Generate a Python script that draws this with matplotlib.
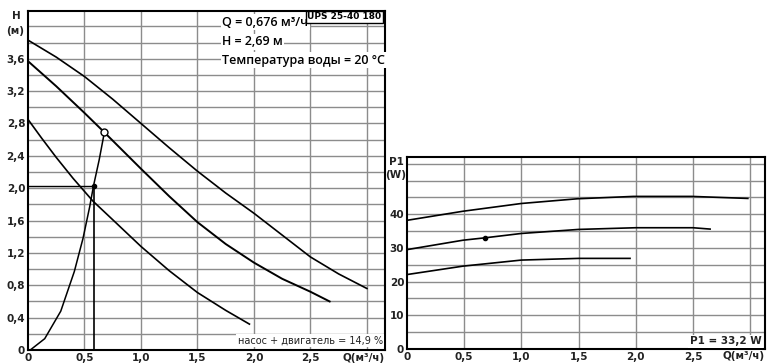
import matplotlib.pyplot as plt

plt.rcParams['font.family'] = ['DejaVu Sans']

# --- левая диаграмма: напор H(Q)
q_max = [0, 0.25, 0.5, 0.75, 1.0, 1.25, 1.5, 1.75, 2.0, 2.25, 2.5, 2.75, 3.0]
h_max = [3.83, 3.62, 3.38, 3.10, 2.80, 2.50, 2.21, 1.94, 1.69, 1.42, 1.15, 0.94, 0.76]

q_mid = [0, 0.25, 0.5, 0.676, 1.0, 1.25, 1.5, 1.75, 2.0, 2.25, 2.5, 2.67]
h_mid = [3.57, 3.26, 2.93, 2.69, 2.24, 1.90, 1.58, 1.31, 1.08, 0.88, 0.72, 0.60]

q_min = [0, 0.12, 0.25, 0.4, 0.575, 0.75, 1.0, 1.25, 1.5, 1.75, 1.96]
h_min = [2.85, 2.62, 2.38, 2.12, 1.84, 1.61, 1.28, 0.98, 0.71, 0.49, 0.32]

q_sys = [0.02, 0.148, 0.29, 0.41, 0.487, 0.546, 0.58, 0.63, 0.676]
h_sys = [0.0, 0.14, 0.48, 0.97, 1.38, 1.77, 2.03, 2.35, 2.69]

q_work, h_work = 0.676, 2.69
q_dot, h_dot = 0.58, 2.03

x_ticks = [0, 0.5, 1.0, 1.5, 2.0, 2.5]
x_labels = ['0', '0,5', '1,0', '1,5', '2,0', '2,5']
h_ticks = [0, 0.4, 0.8, 1.2, 1.6, 2.0, 2.4, 2.8, 3.2, 3.6]
h_labels = ['0', '0,4', '0,8', '1,2', '1,6', '2,0', '2,4', '2,8', '3,2', '3,6']

# --- правая диаграмма: мощность P1(Q)
q_p_hi = [0, 0.49, 1.0, 1.49, 1.98, 2.49, 2.98]
p_hi = [38.2, 40.9, 43.2, 44.6, 45.3, 45.3, 44.7]

q_p_mid = [0, 0.49, 0.68, 1.0, 1.5, 2.0, 2.5, 2.65]
p_mid = [29.5, 32.3, 33.0, 34.3, 35.5, 36.0, 36.0, 35.6]

q_p_lo = [0, 0.49, 1.0, 1.5, 1.95]
p_lo = [22.1, 24.6, 26.4, 26.9, 26.9]

q_p_pt, p_pt = 0.68, 33.0

p_ticks = [0, 10, 20, 30, 40]
p_labels = ['0', '10', '20', '30', '40']

grid_c = '#8c8c8c'
tick_font = dict(fontsize=7.5, fontweight='bold', color='#222222')

fig = plt.figure(figsize=(7.67, 3.64), dpi=100)

ax = fig.add_axes([28 / 767, 14 / 364, 357 / 767, 339 / 364])
ax.set_xlim(0, 3.16)
ax.set_ylim(0, 4.19)
for x in [0.5, 1.0, 1.5, 2.0, 2.5, 3.0]:
    ax.axvline(x, color=grid_c, lw=1.0, zorder=1)
for i in range(1, 21):
    ax.axhline(i * 0.2, color=grid_c, lw=1.0, zorder=1)
ax.plot(q_max, h_max, color='black', lw=1.2, zorder=3)
ax.plot(q_mid, h_mid, color='black', lw=1.4, zorder=3)
ax.plot(q_min, h_min, color='black', lw=1.2, zorder=3)
ax.plot(q_sys, h_sys, color='black', lw=1.1, zorder=3)
ax.plot([0, q_dot], [h_dot, h_dot], color='black', lw=1.0, zorder=3)
ax.plot([q_dot, q_dot], [0, h_dot], color='black', lw=1.2, zorder=3)
ax.plot(q_dot, h_dot, 'o', color='black', ms=3, zorder=4)
ax.plot(q_work, h_work, 'o', mfc='white', mec='black', ms=5, mew=1.0, zorder=4)
ax.set_xticks(x_ticks)
ax.set_xticklabels(x_labels, **tick_font)
ax.set_yticks(h_ticks)
ax.set_yticklabels(h_labels, **tick_font)
ax.tick_params(length=0, pad=2)
for s in ax.spines.values():
    s.set_linewidth(1.5)
ax.text(3.16, -0.04, 'Q(м³/ч)', ha='right', va='top', **tick_font)
ax.text(-0.06, 4.19, 'H', ha='right', va='top', **tick_font)
ax.text(-0.03, 4.0, '(м)', ha='right', va='top', **tick_font)

box = dict(facecolor='white', edgecolor='none', pad=1.0)
info_font = dict(fontsize=9, family='Open Sans', fontweight='semibold',
                 va='center', bbox=box, zorder=5)
ax.text(1.72, 4.05, 'Q = 0,676 м³/ч', **info_font)
ax.text(1.72, 3.81, 'H = 2,69 м', **info_font)
ax.text(1.72, 3.58, 'Температура воды = 20 °C', **info_font)
ax.text(3.13, 4.12, 'UPS 25-40 180', fontsize=6.5, fontweight='bold', ha='right',
        va='center', bbox=dict(facecolor='white', edgecolor='black', pad=1.0, lw=1.0),
        zorder=6)
ax.text(3.14, 0.12, 'насос + двигатель = 14,9 %', fontsize=7, ha='right',
        va='center', color='#222222', bbox=box, zorder=5)

ax2 = fig.add_axes([407 / 767, 15 / 364, 358 / 767, 192 / 364])
ax2.set_xlim(0, 3.13)
ax2.set_ylim(0, 57)
for x in [0.5, 1.0, 1.5, 2.0, 2.5, 3.0]:
    ax2.axvline(x, color=grid_c, lw=1.0, zorder=1)
for i in range(1, 12):
    ax2.axhline(i * 5, color=grid_c, lw=1.0, zorder=1)
ax2.plot(q_p_hi, p_hi, color='black', lw=1.2, zorder=3)
ax2.plot(q_p_mid, p_mid, color='black', lw=1.2, zorder=3)
ax2.plot(q_p_lo, p_lo, color='black', lw=1.2, zorder=3)
ax2.plot(q_p_pt, p_pt, 'o', color='black', ms=3, zorder=4)
ax2.set_xticks(x_ticks)
ax2.set_xticklabels(x_labels, **tick_font)
ax2.set_yticks(p_ticks)
ax2.set_yticklabels(p_labels, **tick_font)
ax2.tick_params(length=0, pad=2)
for s in ax2.spines.values():
    s.set_linewidth(1.5)
ax2.text(3.13, -0.6, 'Q(м³/ч)', ha='right', va='top', **tick_font)
ax2.text(-0.03, 57, 'P1', ha='right', va='top', **tick_font)
ax2.text(-0.01, 53, '(W)', ha='right', va='top', **tick_font)
ax2.text(3.1, 2.3, 'P1 = 33,2 W', fontsize=7.5, fontweight='bold', ha='right',
         va='center', color='#222222', bbox=box, zorder=5)

fig.savefig('out.png', dpi=100)
